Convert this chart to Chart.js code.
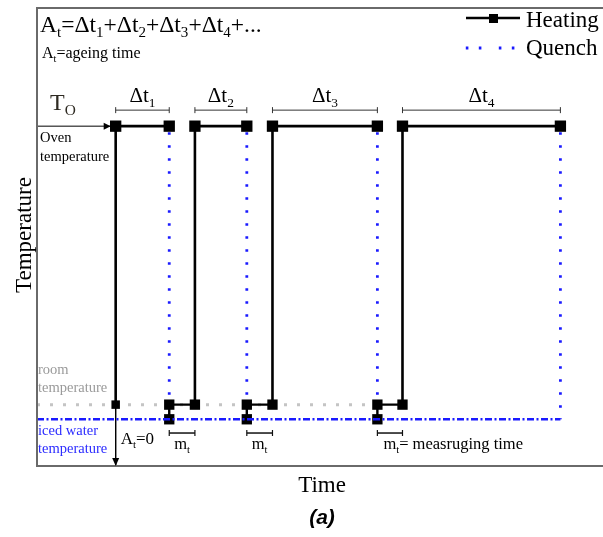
<!DOCTYPE html>
<html><head><meta charset="utf-8">
<script src="https://cdn.jsdelivr.net/npm/chart.js@4/dist/chart.umd.min.js"></script>
<style>html,body{margin:0;padding:0;background:#fff}canvas{display:block}</style>
</head><body>
<canvas id="c" width="603" height="537"></canvas>
<script>
// ---- data (arbitrary time / temperature units) ----
const heatStart = [14.1, 28.3, 42.2, 65.5];   // start of each heating interval
const heatEnd   = [23.7, 37.6, 61.0, 93.8];   // end of each heating interval (quench)
const intervalSubs = ['1', '2', '3', '4'];     // Δt subscripts
const ovenTemp = 74.2;
const roomTemp = 13.4;
const icedTemp = 10.2;
const axisTemp = 0;
const intervalBracketLevel = 77.7;
const measureBracketLevel = 7.2;

const SERIF = '"Liberation Serif", "Times New Roman", serif';
const SANS = '"Liberation Sans", Arial, sans-serif';
const BLACK = '#000';
const BLUE = '#1a1aff';
const GREY = '#c4c4c4';

const datasets = [];
// reference lines
datasets.push({ data: [{x: 0, y: icedTemp}, {x: heatEnd[3], y: icedTemp}], borderColor: BLUE, borderWidth: 2.5,
  borderDash: [7, 2.5, 2, 2.5], pointRadius: 0, order: 0 });
datasets.push({ data: [{x: 0, y: roomTemp}, {x: heatEnd[2], y: roomTemp}], borderColor: GREY, borderWidth: 3,
  borderDash: [3, 10], pointRadius: 0, order: 8 });
// heating cycles
heatStart.forEach((s, i) => {
  const e = heatEnd[i];
  datasets.push({ data: [{x: s, y: roomTemp}, {x: s, y: ovenTemp}, {x: e, y: ovenTemp}], borderColor: BLACK,
    borderWidth: 2.6, pointStyle: 'rect', pointRadius: i === 0 ? [6, 8, 8] : [7.3, 8, 8],
    pointBackgroundColor: BLACK, pointBorderWidth: 0, order: 3 });
  // quench
  datasets.push({ data: [{x: e, y: ovenTemp}, {x: e, y: icedTemp}], borderColor: BLUE, borderWidth: 2.8,
    borderDash: [2.5, 10.5], borderDashOffset: -6, pointRadius: 0, order: 4 });
  // measuring + transfer back
  if (i < heatStart.length - 1) {
    datasets.push({ data: [{x: e, y: icedTemp}, {x: e, y: roomTemp}, {x: heatStart[i + 1], y: roomTemp}],
      borderColor: BLACK, borderWidth: 2.4, pointStyle: 'rect', pointRadius: [7.3, 7.3, 0],
      pointBackgroundColor: BLACK, pointBorderWidth: 0, order: 2 });
    datasets.push({ data: [{x: e, y: measureBracketLevel}, {x: heatStart[i + 1], y: measureBracketLevel}],
      borderColor: '#111', borderWidth: 1.5, pointStyle: 'line', rotation: 90, pointRadius: 3,
      pointBorderColor: '#111', pointBorderWidth: 1.2, order: 5 });
  }
  // Δt bracket
  datasets.push({ data: [{x: s, y: intervalBracketLevel}, {x: e, y: intervalBracketLevel}],
    borderColor: '#333', borderWidth: 1, pointStyle: 'line', rotation: 90, pointRadius: 3,
    pointBorderColor: '#333', pointBorderWidth: 1, order: 5 });
});
// oven-temperature lead-in line and t=0 axis
datasets.push({ data: [{x: 0, y: ovenTemp}, {x: heatStart[0], y: ovenTemp}], borderColor: BLACK, borderWidth: 1,
  pointRadius: 0, order: 6 });
datasets.push({ data: [{x: heatStart[0], y: roomTemp}, {x: heatStart[0], y: axisTemp}], borderColor: BLACK,
  borderWidth: 1, pointRadius: 0, order: 6 });
datasets.forEach(d => { d.showLine = true; d.clip = false; d.fill = false; d.tension = 0; });

function richWidth(ctx, parts, size) {
  let w = 0;
  parts.forEach(([t, sub]) => { ctx.font = (sub ? size * 0.64 : size) + 'px ' + SERIF; w += ctx.measureText(t).width; });
  return w;
}
function drawRich(ctx, parts, x, y, size, align, color) {
  const w = richWidth(ctx, parts, size);
  let cx = align === 'center' ? x - w / 2 : x;
  ctx.fillStyle = color || BLACK;
  ctx.textAlign = 'left';
  ctx.textBaseline = 'alphabetic';
  parts.forEach(([t, sub]) => {
    ctx.font = (sub ? size * 0.64 : size) + 'px ' + SERIF;
    ctx.fillText(t, cx, sub ? y + size * 0.22 : y);
    cx += ctx.measureText(t).width;
  });
}
function text(ctx, t, x, y, size, color, align, font, style) {
  ctx.font = (style ? style + ' ' : '') + size + 'px ' + (font || SERIF);
  ctx.fillStyle = color || BLACK;
  ctx.textAlign = align || 'left';
  ctx.textBaseline = 'alphabetic';
  ctx.fillText(t, x, y);
}

const decor = {
  id: 'decor',
  afterDatasetsDraw(chart) {
    const ctx = chart.ctx, a = chart.chartArea, xs = chart.scales.x, ys = chart.scales.y;
    ctx.save();
    // frame
    ctx.strokeStyle = '#6a6a6a'; ctx.lineWidth = 2;
    ctx.beginPath();
    ctx.moveTo(603, a.top); ctx.lineTo(a.left, a.top); ctx.lineTo(a.left, a.bottom); ctx.lineTo(603, a.bottom);
    ctx.stroke();
    // arrowheads
    ctx.fillStyle = BLACK;
    const ax = xs.getPixelForValue(heatStart[0]), ay = ys.getPixelForValue(ovenTemp);
    ctx.beginPath(); ctx.moveTo(ax - 5, ay); ctx.lineTo(ax - 12, ay - 3.5); ctx.lineTo(ax - 12, ay + 3.5); ctx.fill();
    const by = ys.getPixelForValue(axisTemp);
    ctx.beginPath(); ctx.moveTo(ax, by); ctx.lineTo(ax - 3.5, by - 8); ctx.lineTo(ax + 3.5, by - 8); ctx.fill();

    // top formula
    const f = [['A'], ['t', 1], ['=Δt'], ['1', 1], ['+Δt'], ['2', 1], ['+Δt'], ['3', 1], ['+Δt'], ['4', 1], ['+...']];
    drawRich(ctx, f, 40, 32, 23.5, 'left');
    drawRich(ctx, [['A'], ['t', 1], ['=ageing time']], 42, 58, 16, 'left');
    // T_O
    drawRich(ctx, [['T'], ['O', 1]], 50, 110, 24, 'left', '#2e2a22');
    // side labels
    text(ctx, 'Oven', 40, 142, 14.5);
    text(ctx, 'temperature', 40, 161, 14.5);
    text(ctx, 'room', 38, 374, 14.5, '#9a9a9a');
    text(ctx, 'temperature', 38, 392, 14.5, '#9a9a9a');
    text(ctx, 'iced water', 38, 435, 14.5, '#2b2bff');
    text(ctx, 'temperature', 38, 453, 14.5, '#2b2bff');
    // Δt labels
    const bY = ys.getPixelForValue(intervalBracketLevel);
    heatStart.forEach((s, i) => {
      const cx = (xs.getPixelForValue(s) + xs.getPixelForValue(heatEnd[i])) / 2;
      drawRich(ctx, [['Δt'], [intervalSubs[i], 1]], cx, bY - 8, 21, 'center');
    });
    // m_t labels
    const mY = ys.getPixelForValue(measureBracketLevel);
    for (let i = 0; i < heatStart.length - 1; i++) {
      const x0 = xs.getPixelForValue(heatEnd[i]), x1 = xs.getPixelForValue(heatStart[i + 1]);
      if (i < heatStart.length - 2) drawRich(ctx, [['m'], ['t', 1]], (x0 + x1) / 2, mY + 16, 16.5, 'center');
      else drawRich(ctx, [['m'], ['t', 1], ['= measruging time']], x0 + 6, mY + 16, 16.5, 'left');
    }
    drawRich(ctx, [['A'], ['t', 1], ['=0']], ax + 5, 444, 17, 'left');
    // legend
    ctx.strokeStyle = BLACK; ctx.lineWidth = 2.5;
    ctx.beginPath(); ctx.moveTo(466, 18); ctx.lineTo(520, 18); ctx.stroke();
    ctx.fillRect(489, 14, 9, 9);
    text(ctx, 'Heating', 526, 27, 23);
    ctx.fillStyle = BLUE;
    [467, 480, 500, 513].forEach(x => ctx.fillRect(x - 1.2, 46.5, 2.6, 3));
    text(ctx, 'Quench', 526, 55, 23);
    // axis titles
    text(ctx, 'Time', 322, 492, 23, BLACK, 'center');
    text(ctx, '(a)', 322, 524, 21, BLACK, 'center', SANS, 'italic bold');
    ctx.save();
    ctx.translate(31, 235); ctx.rotate(-Math.PI / 2);
    text(ctx, 'Temperature', 0, 0, 23, BLACK, 'center');
    ctx.restore();
    ctx.restore();
  }
};

new Chart(document.getElementById('c'), {
  type: 'scatter',
  data: { datasets },
  options: {
    responsive: false, animation: false, events: [],
    layout: { padding: { left: 37, top: 5, right: 0, bottom: 71 } },
    plugins: { legend: { display: false }, tooltip: { enabled: false } },
    scales: {
      x: { type: 'linear', min: 0, max: 100, display: false },
      y: { type: 'linear', min: 0, max: 100, display: false }
    }
  },
  plugins: [decor]
});
</script>
</body></html>
